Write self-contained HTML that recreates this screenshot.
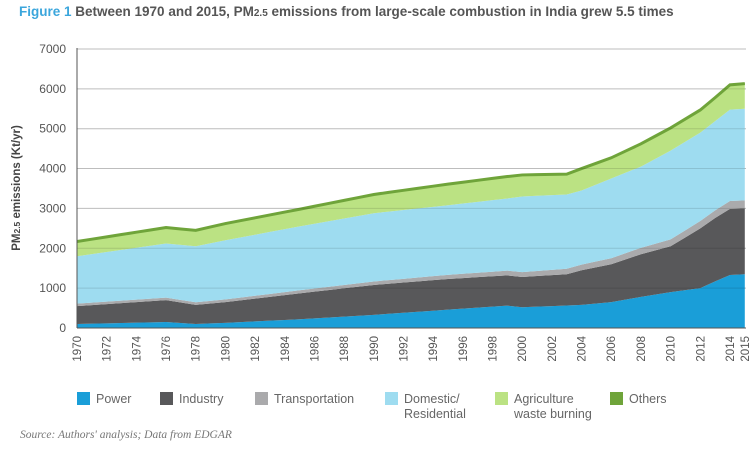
<!DOCTYPE html>
<html><head><meta charset="utf-8"><style>
body{margin:0;background:#fff;width:756px;height:444px;overflow:hidden;font-family:"Liberation Sans",sans-serif}
</style></head><body>
<svg id="s" width="756" height="444" xmlns="http://www.w3.org/2000/svg" font-family="Liberation Sans, sans-serif">
<text x="19" y="16" font-size="13.5" font-weight="bold" fill="#555"><tspan fill="#3ba6dc">Figure 1</tspan> Between 1970 and 2015, PM<tspan font-size="10">2.5</tspan> emissions from large-scale combustion in India grew 5.5 times</text>
<g id="grid"></g>
<g id="areas"></g>
<g id="grid2"></g>
<line x1="77" y1="48" x2="77" y2="328" stroke="#555" stroke-width="1"/>
<line x1="77" y1="328" x2="746" y2="328" stroke="#555" stroke-width="1"/>
<g id="ylab" font-size="12" fill="#555" text-anchor="end"></g>
<g id="xlab" font-size="11.5" fill="#555" text-anchor="end"></g>
<text transform="translate(20,188) rotate(-90)" text-anchor="middle" font-size="11.5" font-weight="bold" fill="#444">PM<tspan font-size="8.5">2.5</tspan> emissions (Kt/yr)</text>
<g font-size="12.5" fill="#666">
<rect x="77" y="392" width="13" height="13" fill="#1a9ed8"/><text x="96" y="403">Power</text>
<rect x="160" y="392" width="13" height="13" fill="#58585a"/><text x="179" y="403">Industry</text>
<rect x="255" y="392" width="13" height="13" fill="#aaaaac"/><text x="274" y="403">Transportation</text>
<rect x="385" y="392" width="13" height="13" fill="#9edcf0"/><text x="404" y="403">Domestic/</text><text x="404" y="418">Residential</text>
<rect x="495" y="392" width="13" height="13" fill="#bbe283"/><text x="514" y="403">Agriculture</text><text x="514" y="418">waste burning</text>
<rect x="610" y="392" width="13" height="13" fill="#6fa43a"/><text x="629" y="403">Others</text>
</g>
<text x="20" y="438" font-family="Liberation Serif, serif" font-style="italic" font-size="11.5" fill="#777">Source: Authors' analysis; Data from EDGAR</text>
</svg>
<script>
const NS="http://www.w3.org/2000/svg";
function X(y){return 77+(y-1970)*14.84}
function Y(v){return 328-v*0.03986}
function interp(k){const r=[];for(let y=1970;y<=2015;y++){let i=0;while(i<k.length-1&&k[i+1][0]<y)i++;const a=k[i],b=k[Math.min(i+1,k.length-1)];r.push(a[0]==b[0]?a[1]:a[1]+(b[1]-a[1])*(y-a[0])/(b[0]-a[0]));}return r}
const P=interp([[1970,100],[1976,150],[1978,100],[1980,130],[1985,220],[1990,330],[1995,460],[1999,560],[2000,520],[2004,580],[2006,650],[2008,780],[2010,900],[2012,1000],[2013,1170],[2014,1330],[2015,1350]]);
const I=interp([[1970,550],[1976,700],[1978,580],[1980,650],[1985,870],[1990,1080],[1995,1230],[1999,1320],[2000,1280],[2003,1350],[2004,1450],[2006,1600],[2008,1850],[2010,2050],[2012,2500],[2013,2760],[2014,2990],[2015,3000]]);
const T=I.map((v,i)=>v+60+i*i*0.07);
const D=interp([[1970,1800],[1976,2120],[1978,2050],[1980,2200],[1985,2550],[1990,2880],[1995,3080],[1999,3250],[2000,3300],[2003,3350],[2004,3450],[2006,3750],[2008,4050],[2010,4450],[2012,4900],[2013,5190],[2014,5480],[2015,5500]]);
const A=interp([[1970,2150],[1976,2500],[1978,2430],[1980,2600],[1985,2960],[1990,3330],[1995,3590],[1999,3780],[2000,3820],[2003,3840],[2004,3980],[2006,4250],[2008,4600],[2010,5000],[2012,5450],[2013,5760],[2014,6080],[2015,6110]]);
const O=A.map(v=>v+40);
const layers=[[null,P,"#1a9ed8"],[P,I,"#58585a"],[I,T,"#aaaaac"],[T,D,"#9edcf0"],[D,A,"#bbe283"],[A,O,"#6fa43a"]];
const g=document.getElementById("areas");
layers.forEach(([lo,hi,c],li)=>{let pts=[];for(let i=0;i<46;i++)pts.push(X(1970+i)+","+Y(hi[i]));for(let i=45;i>=0;i--)pts.push(X(1970+i)+","+Y(lo?lo[i]:0));const p=document.createElementNS(NS,"polygon");p.setAttribute("points",pts.join(" "));p.setAttribute("fill",c);g.appendChild(p);
 if(li==5){const pl=document.createElementNS(NS,"polyline");let q=[];for(let i=0;i<46;i++)q.push(X(1970+i)+","+Y((A[i]+O[i])/2));pl.setAttribute("points",q.join(" "));pl.setAttribute("fill","none");pl.setAttribute("stroke",c);pl.setAttribute("stroke-width","3");g.appendChild(pl);}});
const gr=document.getElementById("grid"),g2=document.getElementById("grid2"),yl=document.getElementById("ylab");
for(let v=0;v<=7000;v+=1000){const y=Y(v);
 if(v>0){const l=document.createElementNS(NS,"line");l.setAttribute("x1",77);l.setAttribute("x2",746);l.setAttribute("y1",y);l.setAttribute("y2",y);l.setAttribute("stroke","#d8d8d8");gr.appendChild(l);
 const l2=l.cloneNode();l2.setAttribute("stroke","rgba(0,0,0,0.12)");g2.appendChild(l2);}
 const t=document.createElementNS(NS,"text");t.setAttribute("x",66);t.setAttribute("y",y+4);t.textContent=v;yl.appendChild(t);}
const xl=document.getElementById("xlab");
const yrs=[];for(let y=1970;y<=2014;y+=2)yrs.push(y);yrs.push(2015);
yrs.forEach(y=>{const t=document.createElementNS(NS,"text");const x=X(y)+4;t.setAttribute("transform","translate("+x+",336) rotate(-90)");t.textContent=y;xl.appendChild(t);});
</script>
</body></html>
